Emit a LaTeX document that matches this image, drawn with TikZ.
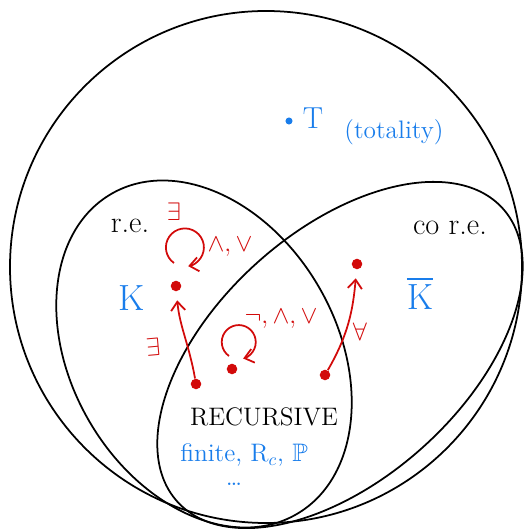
\documentclass[tikz,border=0pt]{standalone}
\usepackage{amsmath, amssymb}
\usepackage{xcolor}
\usepackage{tikz}
\usetikzlibrary{arrows.meta, positioning, calc}
\definecolor{penred}{RGB}{210,10,10}
\definecolor{penblue}{RGB}{25,125,235}

\begin{document}
\begin{tikzpicture}[
    x=0.02cm, y=0.02cm,
    set/.style={draw, line width=1pt},
    dot/.style={circle, fill=penred, inner sep=0pt, minimum size=6pt},
    arr/.style={-{Straight Barb[length=5pt, width=8pt]}, penred, line width=1pt},
    lbl/.style={font=\LARGE},
    bl/.style={text=penblue},
    rd/.style={text=penred, font=\Large}
]
\useasboundingbox (0,0) rectangle (527,530);
\draw[set] (266,263) circle[radius=256];
\draw[set, rotate around={-60:(204,176)}] (204,176) ellipse[x radius=185, y radius=133];
\draw[set, rotate around={42:(340,175)}] (340,175) ellipse[x radius=219, y radius=124];
\node[lbl] (re)   at (130,304) {r.e.};
\node[lbl] (core) at (450,302) {co r.e.};
\node[bl, font=\huge] (K)    at (132,232) {K};
\node[bl, font=\huge] (Kbar) at (420,237) {$\overline{\mathrm{K}}$};
\node[circle, fill=penblue, inner sep=0pt, minimum size=4pt] (tdot) at (289,409) {};
\node[bl, font=\LARGE] (T)   at (313,412) {T};
\node[bl, font=\Large] (tot) at (394,398) {(totality)};
\node[font=\Large] (rec)     at (264,113) {RECURSIVE};
\node[bl, font=\Large] (ex)  at (244,75) {finite, R$_c$, $\mathbb{P}$};
\node[bl, font=\Large, anchor=base] (more) at (234,44) {\dots};
\node[dot] (kpt)  at (176,244) {};
\node[dot] (rpt)  at (196,146) {};
\node[dot] (mpt)  at (232,161) {};
\node[dot] (spt)  at (325,155) {};
\node[dot] (kbpt) at (357,266) {};
\draw[arr, shorten >=5pt] (rpt) to[out=100, in=-85] (kpt);
\draw[arr, shorten >=5pt] (spt) to[out=60, in=-95] (kbpt);
\node[rd, rotate=5] (ex1) at (153,183) {$\exists$};
\node[rd] (fa) at (360,198) {$\forall$};
\coordinate (kloop) at (174,267);
\draw[arr] (kloop) arc[start angle=235, end angle=-80, radius=19];
\node[rd] (ex2)  at (174,318) {$\exists$};
\node[rd] (kops) at (230,283) {$\wedge,\vee$};
\coordinate (mloop) at (229,174);
\draw[arr] (mloop) arc[start angle=235, end angle=-75, radius=17];
\node[rd] (mops) at (281,211) {$\neg,\wedge,\vee$};
\end{tikzpicture}
\end{document}
